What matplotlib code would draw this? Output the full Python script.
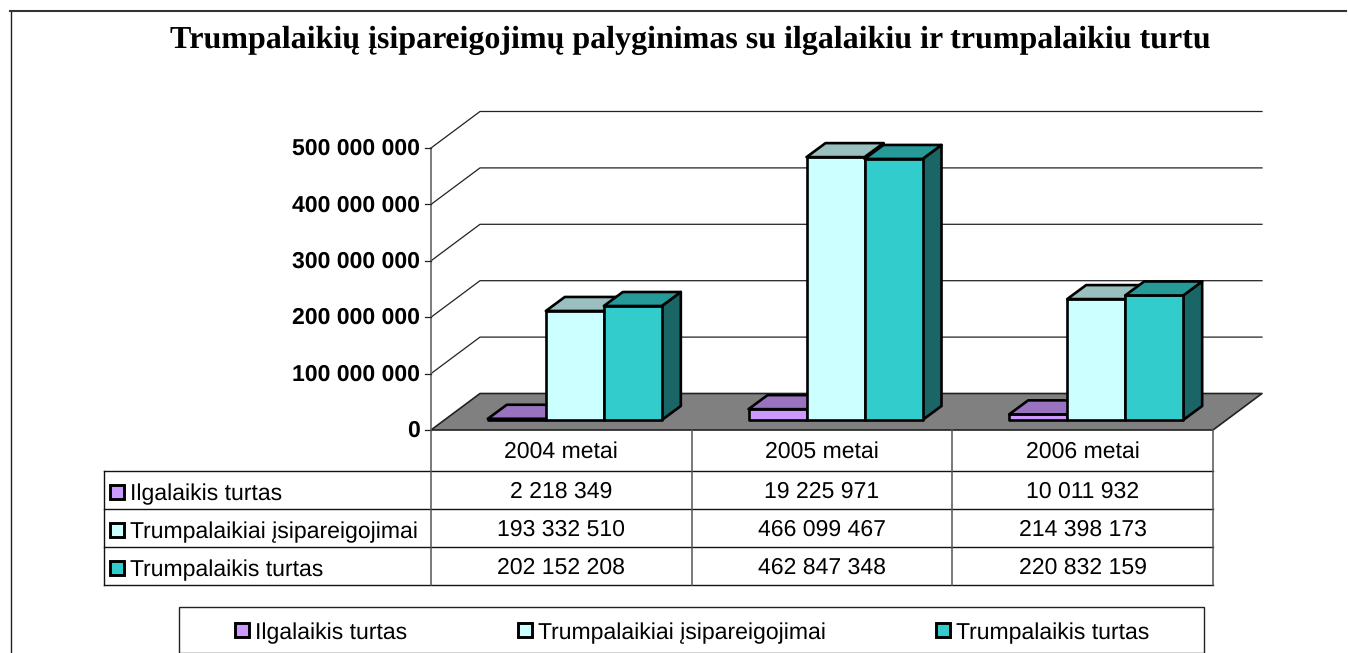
import matplotlib
matplotlib.use("Agg")
import matplotlib.pyplot as plt
from matplotlib.patches import Polygon, Rectangle

W, H = 1348, 653

title = "Trumpalaikių įsipareigojimų palyginimas su ilgalaikiu ir trumpalaikiu turtu"
years = ["2004 metai", "2005 metai", "2006 metai"]
series = ["Ilgalaikis turtas", "Trumpalaikiai įsipareigojimai", "Trumpalaikis turtas"]
ilgalaikis = [2218349, 19225971, 10011932]
isipareigojimai = [193332510, 466099467, 214398173]
trumpalaikis = [202152208, 462847348, 220832159]
yticks = [0, 100000000, 200000000, 300000000, 400000000, 500000000]

front = ["#CC99FF", "#CCFFFF", "#33CCCC"]
top = ["#9A73C0", "#99BFBF", "#269999"]
side = ["#7A5C99", "#7A9999", "#1A6666"]


def fmt(v):
    return f"{v:,}".replace(",", " ")


plt.rcParams["font.family"] = "Liberation Sans"
plt.rcParams["text.hinting"] = "no_hinting"
plt.rcParams["text.hinting_factor"] = 1
fig = plt.figure(figsize=(W / 100, H / 100), dpi=100, facecolor="white")

# plot area = front of the 3d box, x in categories, y in values
x0, x1, y0, y1 = 431, 1213, 430, 148
ax = fig.add_axes([x0 / W, 1 - y0 / H, (x1 - x0) / W, (y0 - y1) / H])
ax.set_xlim(0, 3)
ax.set_ylim(0, 500000000)
ax.axis("off")

px = 3 / (x1 - x0)
py = 500000000 / (y0 - y1)
dep_x, dep_y = 49 * px, 36.5 * py    # depth of the floor
off_x, off_y = 13.5 * px, 10 * py    # bars start this far into the box
bar_x, bar_y = 19 * px, 14 * py      # depth of a bar
bar_w = 58 * px


def poly(pts, fc, lw=1.9, ec="black", z=2):
    ax.add_patch(Polygon(pts, closed=True, fc=fc, ec=ec, lw=lw, joinstyle="round", clip_on=False, zorder=z))


# floor and back wall
poly([(0, 0), (3, 0), (3 + dep_x, dep_y), (dep_x, dep_y)], "#808080", lw=1.2, ec="#222222", z=1)
for t in yticks[1:]:
    ax.plot([0, dep_x, 3 + dep_x], [t, t + dep_y, t + dep_y], color="#222222", lw=0.9, clip_on=False, zorder=1)
ax.plot([0, 0], [0, yticks[-1]], color="#666666", lw=1.2, clip_on=False, zorder=1)
for t in yticks:
    ax.plot([-6 * px, 0], [t, t], color="#222222", lw=0.9, clip_on=False, zorder=1)
    ax.text(-11.5 * px, t - 1 * py, fmt(t), ha="right", va="center", fontsize=16.4, fontweight="bold", color="black")

# bars
values = [ilgalaikis, isipareigojimai, trumpalaikis]
for c in range(3):
    start = c + 0.5 - 1.5 * bar_w + off_x
    for s in range(3):
        v = values[s][c]
        l = start + s * bar_w
        r = l + bar_w
        b = off_y
        t = off_y + v
        poly([(r, b), (r + bar_x, b + bar_y), (r + bar_x, t + bar_y), (r, t)], side[s])
        poly([(l, b), (r, b), (r, t), (l, t)], front[s])
        poly([(l, t), (r, t), (r + bar_x, t + bar_y), (l + bar_x, t + bar_y)], top[s])

# everything below in pixels
ov = fig.add_axes([0, 0, 1, 1], facecolor="none")
ov.set_xlim(0, W)
ov.set_ylim(H, 0)
ov.axis("off")

# outer frame, open on the right
ov.plot([10.5, 10.5], [11, H], color="#222222", lw=1.0)
ov.plot([10, W - 2], [11, 11], color="#333333", lw=1.5)

ov.text(690, 40, title, ha="center", va="center", fontsize=23.07, fontweight="bold",
        family="Liberation Serif", color="black")

# data table
col_x = [431, 691.5, 952, 1213]
row_y = [430, 471, 509, 547, 585]
tbl = "#111111"
for y in row_y[1:]:
    ov.plot([104, 1213], [y, y], color=tbl, lw=1.0)
ov.plot([104, 104], [471, 585], color=tbl, lw=1.0)
for x in col_x:
    ov.plot([x, x], [430, 585], color="#555555", lw=1.1)
for i, y in enumerate(years):
    ov.text((col_x[i] + col_x[i + 1]) / 2, 452, y, ha="center", va="center", fontsize=16.5, color="black")
for s in range(3):
    ym = (row_y[s + 1] + row_y[s + 2]) / 2
    ov.add_patch(Rectangle((110, ym - 5), 14, 14, fc=front[s], ec="black", lw=2.1))
    ov.text(130, ym + 4, series[s], ha="left", va="center", fontsize=16.5, color="black")
    for i in range(3):
        ov.text((col_x[i] + col_x[i + 1]) / 2, ym + 2, fmt(values[s][i]), ha="center", va="center", fontsize=16.5, color="black")

# legend
ov.add_patch(Rectangle((179, 607), 1025, 45.5, fc="white", ec="#222222", lw=1.0))
for s, xl in enumerate([235, 518, 936]):
    ov.add_patch(Rectangle((xl, 622.5), 14, 14, fc=front[s], ec="black", lw=2.1))
    ov.text(xl + 20, 633, series[s], ha="left", va="center", fontsize=16.5, color="black")

fig.savefig("out.png", dpi=100)
